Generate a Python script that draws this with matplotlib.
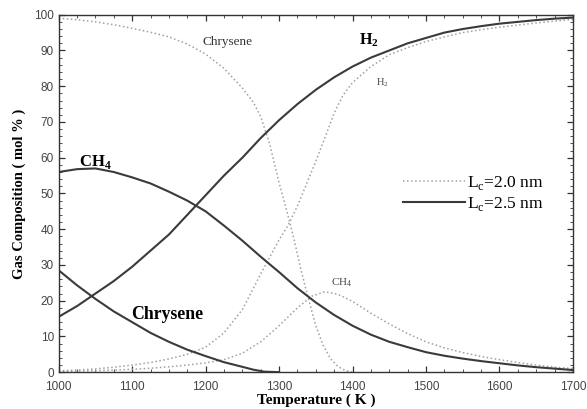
#!/usr/bin/env python3

import matplotlib
matplotlib.use('Agg')
import matplotlib.pyplot as plt
from matplotlib.ticker import MultipleLocator

# ======================================================================
# Data (temperature in K, composition in mol %).
# ======================================================================

# Lc = 2.5 nm (solid)
t_h2_25 = [1000, 1025, 1050, 1075, 1100, 1125, 1150, 1175, 1200, 1225, 1250, 1275, 1300, 1325,
           1350, 1375, 1400, 1425, 1450, 1475, 1500, 1525, 1550, 1575, 1600, 1625, 1650, 1675, 1700]
h2_25 = [15.5, 18.5, 22, 25.5, 29.5, 34, 38.5, 44, 49.5, 55, 60, 65.5, 70.5, 75,
         79, 82.5, 85.5, 88, 90, 92, 93.5, 95, 96, 96.8, 97.5, 98, 98.5, 98.9, 99.2]

t_ch4_25 = [1000, 1025, 1050, 1075, 1100, 1125, 1150, 1175, 1200, 1225, 1250, 1275, 1300, 1325,
            1350, 1375, 1400, 1425, 1450, 1475, 1500, 1525, 1550, 1575, 1600, 1625, 1650, 1675, 1700]
ch4_25 = [56, 56.8, 57, 56, 54.5, 52.8, 50.5, 48, 45, 41, 36.8, 32.3, 28, 23.5,
          19.5, 16, 13, 10.5, 8.5, 7, 5.6, 4.6, 3.8, 3.1, 2.5, 1.9, 1.4, 1, 0.6]

t_chr_25 = [1000, 1025, 1050, 1075, 1100, 1125, 1150, 1175, 1200, 1225, 1250, 1265, 1280, 1300]
chr_25 = [28.5, 24.3, 20.5, 17, 14, 11, 8.5, 6.3, 4.5, 2.8, 1.5, 0.7, 0.15, 0]

# Lc = 2.0 nm (dotted)
t_h2_20 = [1000, 1025, 1050, 1075, 1100, 1125, 1150, 1175, 1200, 1225, 1250, 1275, 1300, 1312,
           1325, 1350, 1365, 1375, 1387, 1400, 1425, 1450, 1475, 1500, 1525, 1550, 1575, 1600,
           1625, 1650, 1675, 1700]
h2_20 = [0.4, 0.6, 0.9, 1.4, 2, 2.7, 3.7, 5, 7, 11, 17.5, 27.5, 37, 41,
         46.5, 59, 67, 72.5, 77.5, 81, 85.5, 88.8, 90.8, 92.5, 93.8, 95, 95.8, 96.5,
         97.1, 97.7, 98.2, 98.7]

t_ch4_20 = [1000, 1050, 1100, 1125, 1150, 1175, 1200, 1225, 1250, 1275, 1300, 1325, 1345, 1362,
            1380, 1400, 1425, 1450, 1475, 1500, 1525, 1550, 1575, 1600, 1625, 1650, 1675, 1700]
ch4_20 = [0.2, 0.4, 0.8, 1.1, 1.5, 2, 2.6, 3.5, 5.3, 8.5, 13, 18, 21.3, 22.5,
          21.8, 19.8, 16.5, 13.5, 10.8, 8.5, 6.8, 5.5, 4.4, 3.5, 2.7, 2, 1.4, 1]

t_chr_20 = [1000, 1025, 1050, 1075, 1100, 1125, 1150, 1175, 1200, 1225, 1250, 1265, 1275, 1287,
            1300, 1310, 1320, 1330, 1340, 1350, 1360, 1370, 1380, 1390, 1400]
chr_20 = [99, 98.6, 98, 97.2, 96.2, 95.1, 93.8, 91.8, 89, 85, 79.5, 75.5, 71.5, 64,
          53, 45.5, 37.5, 28.5, 20.5, 13, 7.5, 3.8, 1.6, 0.5, 0]

# ======================================================================
# Plot.
# ======================================================================

serif = ['Liberation Serif', 'DejaVu Serif']
c_solid = '#3a3a3a'
c_dot = '#a0a0a0'

fig = plt.figure(figsize=(5.87, 4.09), dpi=100)
ax = fig.add_axes([0.100, 0.090, 0.876, 0.874])

ax.plot(t_h2_20, h2_20, ls=':', color=c_dot, lw=1.1, label='L$_\\mathregular{c}$=2.0 nm')
ax.plot(t_ch4_20, ch4_20, ls=':', color=c_dot, lw=1.1)
ax.plot(t_chr_20, chr_20, ls=':', color=c_dot, lw=1.1)

ax.plot(t_h2_25, h2_25, color=c_solid, lw=1.5, label='L$_\\mathregular{c}$=2.5 nm')
ax.plot(t_ch4_25, ch4_25, color=c_solid, lw=1.5)
ax.plot(t_chr_25, chr_25, color=c_solid, lw=1.5)

# curve labels
ax.text(1230, 92.5, 'Chrysene', family=serif, fontsize=9.5, color='#333333', ha='center', va='center')
ax.text(1422, 93, 'H$_\\mathregular{2}$', family=serif, fontsize=11.5, fontweight='bold', ha='center', va='center')
ax.text(1441, 81, 'H$_\\mathregular{2}$', family=serif, fontsize=7.5, color='#444444', ha='center', va='center')
ax.text(1050, 58.8, 'CH$_\\mathregular{4}$', family=serif, fontsize=12, fontweight='bold', ha='center', va='center')
ax.text(1148, 16, 'Chrysene', family=serif, fontsize=12.8, fontweight='bold', ha='center', va='center')
ax.text(1385, 25, 'CH$_\\mathregular{4}$', family=serif, fontsize=8, color='#444444', ha='center', va='center')

leg = ax.legend(loc='center left', bbox_to_anchor=(0.669, 0.50), frameon=False,
                prop={'family': serif, 'size': 12.5}, handlelength=3.6,
                handletextpad=0.1, labelspacing=0.2, borderpad=0, borderaxespad=0)

ax.set_xlim(1000, 1700)
ax.set_ylim(0, 100)
ax.xaxis.set_major_locator(MultipleLocator(100))
ax.xaxis.set_minor_locator(MultipleLocator(25))
ax.yaxis.set_major_locator(MultipleLocator(10))
ax.yaxis.set_minor_locator(MultipleLocator(2))
ax.tick_params(which='both', direction='in', top=True, right=True, color='#333333')
ax.tick_params(which='major', length=4, width=0.9, labelsize=8.5, labelcolor='#444444')
ax.tick_params(which='minor', length=2, width=0.6)
ax.tick_params(axis='x', pad=6)
for lab in ax.get_xticklabels() + ax.get_yticklabels():
    lab.set_family(['Liberation Sans', 'DejaVu Sans'])
for s in ax.spines.values():
    s.set_color('#333333')
    s.set_linewidth(1.0)

ax.set_xlabel('Temperature ( K )', family=serif, fontsize=11, fontweight='bold', labelpad=1)
ax.set_ylabel('Gas Composition ( mol % )', family=serif, fontsize=10.5, fontweight='bold', labelpad=6)

fig.savefig('out.png', dpi=100)
plt.close()
